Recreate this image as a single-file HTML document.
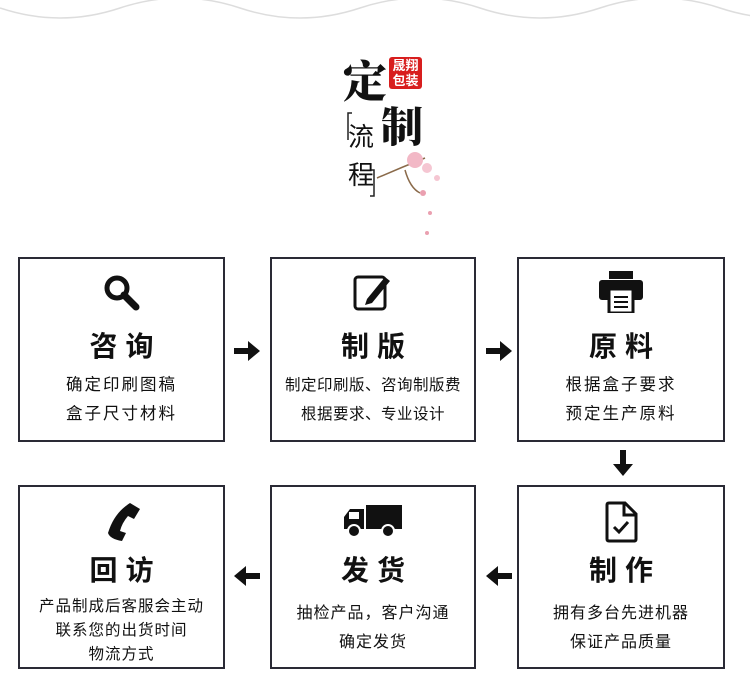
<!DOCTYPE html>
<html><head><meta charset="utf-8"><style>
body{margin:0;width:750px;height:689px;background:#fff;position:relative;overflow:hidden;font-family:"Liberation Sans","Noto Sans CJK SC",sans-serif;color:#111}
.b{position:absolute;border:2px solid #2a2a35;box-sizing:border-box;text-align:center}
.t{position:absolute;left:0;right:0;font-size:28px;font-weight:bold;letter-spacing:8px;text-indent:8px}
.d{position:absolute;left:0;right:0;font-size:16.5px;line-height:29px;letter-spacing:2px}
.ic{position:absolute;left:50%;transform:translateX(-50%)}
.ar{position:absolute;width:30px;height:24px}
</style></head><body>
<svg style="position:absolute;left:0;top:0" width="750" height="30"><path d="M0 8 Q60 28 120 8 T240 8 T360 8 T480 8 T600 8 T720 8 T840 8" fill="none" stroke="#ddd" stroke-width="1.5"/></svg>

<div style="position:absolute;left:343px;top:46px;font-size:44px;font-weight:900;font-family:'Noto Serif CJK SC',serif">定</div>
<div style="position:absolute;left:389px;top:57px;width:33px;height:32px;background:#d81e1e;border-radius:3px;color:#fff;font-size:13px;line-height:15px;text-align:center;font-weight:bold;padding-top:1px;box-sizing:border-box">晟翔<br>包装</div>
<div style="position:absolute;left:381px;top:95px;font-size:42px;font-weight:900;font-family:'Noto Serif CJK SC',serif">制</div>
<svg style="position:absolute;left:345px;top:110px" width="32" height="90"><path d="M7 3 L3 3 L3 30 M25 60 L29 60 L29 86 L25 86" fill="none" stroke="#222" stroke-width="1.5"/></svg>
<div style="position:absolute;left:346px;top:118px;font-size:26px;line-height:38px;width:30px;text-align:center">流<br>程</div>
<svg style="position:absolute;left:375px;top:148px" width="75" height="90"><path d="M2 30 Q25 20 50 10 M30 22 Q35 40 45 45" stroke="#8a6a4a" stroke-width="1.5" fill="none"/><circle cx="40" cy="12" r="8" fill="#f2b8c6"/><circle cx="52" cy="20" r="5" fill="#f5c6d2"/><circle cx="62" cy="30" r="3" fill="#f5c6d2"/><circle cx="48" cy="45" r="3" fill="#eaa0b0"/><circle cx="55" cy="65" r="2" fill="#eaa0b0"/><circle cx="52" cy="85" r="2" fill="#eaa0b0"/></svg>

<!-- row 1 -->
<div class="b" style="left:18px;top:257px;width:207px;height:185px">
<svg class="ic" style="top:14px" width="40" height="40" viewBox="0 0 40 40"><circle cx="15" cy="15" r="10" fill="none" stroke="#111" stroke-width="5"/><path d="M22 22 L34 34" stroke="#111" stroke-width="7" stroke-linecap="round"/></svg>
<div class="t" style="top:66px">咨询</div>
<div class="d" style="top:112px">确定印刷图稿<br>盒子尺寸材料</div></div>
<div class="b" style="left:270px;top:257px;width:206px;height:185px">
<svg class="ic" style="top:12px" width="44" height="42" viewBox="0 0 44 42"><rect x="4" y="6" width="30" height="32" rx="3" fill="none" stroke="#111" stroke-width="3"/><path d="M16 28 L34 6 L39 10 L21 32 L14 34 Z" fill="#111"/></svg>
<div class="t" style="top:66px">制版</div>
<div class="d" style="top:112px;font-size:15.5px;letter-spacing:0.5px">制定印刷版、咨询制版费<br>根据要求、专业设计</div></div>
<div class="b" style="left:517px;top:257px;width:208px;height:185px">
<svg class="ic" style="top:12px" width="48" height="42" viewBox="0 0 48 42"><rect x="12" y="0" width="24" height="8" fill="#111"/><rect x="2" y="9" width="44" height="20" rx="3" fill="#111"/><rect x="12" y="18" width="24" height="24" fill="#fff" stroke="#111" stroke-width="3"/><path d="M17 26h14M17 31h14M17 36h14" stroke="#111" stroke-width="2"/></svg>
<div class="t" style="top:66px">原料</div>
<div class="d" style="top:112px">根据盒子要求<br>预定生产原料</div></div>
<!-- row 2 -->
<div class="b" style="left:18px;top:485px;width:207px;height:184px">
<svg class="ic" style="top:14px" width="40" height="40" viewBox="0 0 40 40"><path d="M28 2 L38 8 L32 18 L26 15 Q20 22 18 30 L24 32 L20 40 Q8 38 6 32 Q12 12 28 2Z" fill="#111"/></svg>
<div class="t" style="top:62px">回访</div>
<div class="d" style="top:108px;font-size:15.5px;line-height:24px;letter-spacing:1px">产品制成后客服会主动<br>联系您的出货时间<br>物流方式</div></div>
<div class="b" style="left:270px;top:485px;width:206px;height:184px">
<svg class="ic" style="top:16px" width="62" height="36" viewBox="0 0 62 36"><rect x="24" y="2" width="36" height="24" fill="#111"/><path d="M2 26 L2 14 L8 6 L22 6 L22 26 Z" fill="#111"/><rect x="7" y="9" width="10" height="7" fill="#fff"/><circle cx="12" cy="28" r="6" fill="#111" stroke="#fff" stroke-width="2"/><circle cx="46" cy="28" r="6" fill="#111" stroke="#fff" stroke-width="2"/></svg>
<div class="t" style="top:62px">发货</div>
<div class="d" style="top:112px;font-size:16px;letter-spacing:1px">抽检产品，客户沟通<br>确定发货</div></div>
<div class="b" style="left:517px;top:485px;width:208px;height:184px">
<svg class="ic" style="top:14px" width="36" height="42" viewBox="0 0 36 42"><path d="M4 4 Q4 2 6 2 L22 2 L33 13 L33 38 Q33 40 31 40 L6 40 Q4 40 4 38 Z" fill="none" stroke="#111" stroke-width="3"/><path d="M21 2 L21 14 L33 14" fill="none" stroke="#111" stroke-width="3"/><path d="M11 26 L16 31 L25 21" fill="none" stroke="#111" stroke-width="3"/></svg>
<div class="t" style="top:62px">制作</div>
<div class="d" style="top:112px;font-size:16px;letter-spacing:1px">拥有多台先进机器<br>保证产品质量</div></div>

<svg width="0" height="0" style="position:absolute"><defs><path id="a" d="M2 9 L16 9 L16 2 L28 12 L16 22 L16 15 L2 15 Z" fill="#111"/></defs></svg>
<svg class="ar" style="left:232px;top:339px" viewBox="0 0 30 24"><use href="#a"/></svg>
<svg class="ar" style="left:484px;top:339px" viewBox="0 0 30 24"><use href="#a"/></svg>
<svg class="ar" style="left:608px;top:451px;transform:rotate(90deg)" viewBox="0 0 30 24"><use href="#a"/></svg>
<svg class="ar" style="left:484px;top:564px;transform:scaleX(-1)" viewBox="0 0 30 24"><use href="#a"/></svg>
<svg class="ar" style="left:232px;top:564px;transform:scaleX(-1)" viewBox="0 0 30 24"><use href="#a"/></svg>
</body></html>
